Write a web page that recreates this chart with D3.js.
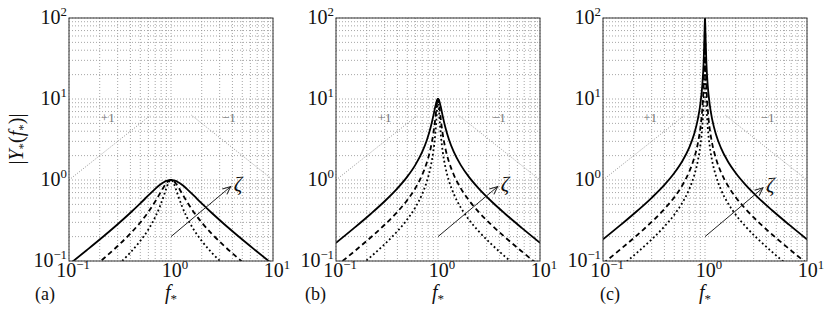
<!DOCTYPE html>
<html>
<head>
<meta charset="utf-8">
<script src="https://cdnjs.cloudflare.com/ajax/libs/d3/7.8.5/d3.min.js"></script>
<style>
  body { margin: 0; background: #fff; }
  text { font-family: "Liberation Serif", "DejaVu Serif", serif; fill: #111; }
</style>
</head>
<body>
<script>
// normalised frequency f* (shared by every curve)
var freq = [0.1, 0.15, 0.22, 0.3, 0.4, 0.5, 0.6, 0.7, 0.78, 0.85, 0.9, 0.94, 0.97, 0.985, 0.995, 0.998, 1,
  1.002, 1.005, 1.015, 1.031, 1.064, 1.111, 1.176, 1.282, 1.429, 1.667, 2, 2.5, 3.333, 4.545, 6.667, 10];

// panel (a) |Y*| values
var solidA = [0.0905, 0.1368, 0.2037, 0.2844, 0.3939, 0.5145, 0.6449, 0.7773, 0.8733, 0.9401, 0.9736, 0.9907, 0.9977, 0.9994, 1.0, 1.0, 1.0,
  1.0, 1.0, 0.9994, 0.9977, 0.9907, 0.9736, 0.9401, 0.8733, 0.7773, 0.6449, 0.5145, 0.3939, 0.2844, 0.2037, 0.1368, 0.0905];
var dashedA = [0.0474, 0.0719, 0.1080, 0.1531, 0.2184, 0.2990, 0.4032, 0.5421, 0.6834, 0.8213, 0.9122, 0.9670, 0.9917, 0.9979, 0.9998, 1.0, 1.0,
  1.0, 0.9998, 0.9979, 0.9917, 0.9670, 0.9122, 0.8213, 0.6834, 0.5421, 0.4032, 0.2990, 0.2184, 0.1531, 0.1080, 0.0719, 0.0474];
var dottedA = [0.0273, 0.0414, 0.0623, 0.0887, 0.1275, 0.1772, 0.2454, 0.3475, 0.4736, 0.6373, 0.7878, 0.9090, 0.9755, 0.9938, 0.9993, 0.9999, 1.0,
  0.9999, 0.9993, 0.9938, 0.9755, 0.9090, 0.7878, 0.6373, 0.4736, 0.3475, 0.2454, 0.1772, 0.1275, 0.0887, 0.0623, 0.0414, 0.0273];

// panel (b)
var solidB = [0.1676, 0.2547, 0.3835, 0.5464, 0.788, 1.100, 1.538, 2.222, 3.139, 4.532, 6.181, 8.015, 9.388, 9.838, 9.982, 9.997, 10,
  9.997, 9.982, 9.838, 9.388, 8.015, 6.181, 4.532, 3.139, 2.222, 1.538, 1.100, 0.788, 0.5464, 0.3835, 0.2547, 0.1676];
var dashedB = [0.0859, 0.1304, 0.1965, 0.2801, 0.4044, 0.5658, 0.7944, 1.159, 1.669, 2.520, 3.735, 5.659, 8.128, 9.422, 9.931, 9.989, 10,
  9.989, 9.931, 9.422, 8.128, 5.659, 3.735, 2.520, 1.669, 1.159, 0.7944, 0.5658, 0.4044, 0.2801, 0.1965, 0.1304, 0.0859];
var dottedB = [0.0495, 0.0752, 0.1133, 0.1615, 0.2333, 0.3265, 0.4589, 0.6711, 0.9714, 1.484, 2.261, 3.679, 6.267, 8.511, 9.797, 9.967, 10,
  9.967, 9.797, 8.511, 6.267, 3.679, 2.261, 1.484, 0.9714, 0.6711, 0.4589, 0.3265, 0.2333, 0.1615, 0.1133, 0.0752, 0.0495];

// panel (c)
var solidC = [0.1849, 0.2808, 0.4231, 0.6033, 0.8714, 1.220, 1.716, 2.511, 3.643, 5.597, 8.636, 14.62, 28.77, 51.79, 87.70, 97.69, 100,
  97.69, 87.70, 51.79, 28.77, 14.62, 8.636, 5.597, 3.643, 2.511, 1.716, 1.220, 0.8714, 0.6033, 0.4231, 0.2808, 0.1849];
var dashedC = [0.0929, 0.1412, 0.2127, 0.3033, 0.4381, 0.6133, 0.8625, 1.263, 1.832, 2.817, 4.354, 7.409, 14.93, 29.12, 67.61, 91.69, 100,
  91.69, 67.61, 29.12, 14.93, 7.409, 4.354, 2.817, 1.832, 1.263, 0.8625, 0.6133, 0.4381, 0.3033, 0.2127, 0.1412, 0.0929];
var dottedC = [0.0566, 0.0859, 0.1295, 0.1846, 0.2667, 0.3733, 0.5250, 0.7686, 1.115, 1.715, 2.652, 4.518, 9.153, 18.22, 48.77, 81.35, 100,
  81.35, 48.77, 18.22, 9.153, 4.518, 2.652, 1.715, 1.115, 0.7686, 0.5250, 0.3733, 0.2667, 0.1846, 0.1295, 0.0859, 0.0566];

// slope guide lines (+1 and -1)
var guidePlus = [[0.1, 1], [0.63, 6.3]];
var guideMinus = [[1.59, 6.3], [10, 1]];

// tick labels
var xTickVals = [0.1, 1, 10];
var xTickExp = ["\u22121", "0", "1"];
var yTickVals = [0.1, 1, 10, 100];
var yTickExp = ["\u22121", "0", "1", "2"];

var panelNames = ["(a)", "(b)", "(c)"];

// layout
var plotTop = 18, plotW = 204, plotH = 243;
var panels = [
  { left: 69,  curves: [solidA, dashedA, dottedA], plusF: 0.24, minusF: 3.7,  arrow: [[1, 0.2], [3.85, 0.83]], labelX: 35 },
  { left: 336, curves: [solidB, dashedB, dottedB], plusF: 0.30, minusF: 3.95, arrow: [[1, 0.2], [3.85, 0.83]], labelX: 305 },
  { left: 603, curves: [solidC, dashedC, dottedC], plusF: 0.29, minusF: 4.1,  arrow: [[1, 0.2], [3.7, 0.80]],  labelX: 600 }
];
var dashes = [null, "5,3.5", "1.8,2.6"];
var fs = 20; // tick label size

var svg = d3.select("body").append("svg")
  .attr("width", 830)
  .attr("height", 312);

var defs = svg.append("defs");
defs.append("marker")
  .attr("id", "head")
  .attr("viewBox", "-10 -6 12 12")
  .attr("markerWidth", 12).attr("markerHeight", 12)
  .attr("markerUnits", "userSpaceOnUse")
  .attr("orient", "auto")
  .append("path")
  .attr("d", "M-8,-3.5 L0,0 L-8,3.5")
  .attr("fill", "none")
  .attr("stroke", "#222")
  .attr("stroke-width", 1);

function supText(sel, base, exp, size) {
  sel.append("tspan").text(base);
  sel.append("tspan").attr("dy", -8).attr("font-size", size * 0.64).text(exp);
}

panels.forEach(function(p, pi) {
  var x = d3.scaleLog().domain([0.1, 10]).range([0, plotW]);
  var y = d3.scaleLog().domain([0.1, 100]).range([plotH, 0]);

  var g = svg.append("g").attr("transform", "translate(" + p.left + "," + plotTop + ")");

  defs.append("clipPath").attr("id", "clip" + pi)
    .append("rect").attr("width", plotW).attr("height", plotH);

  // grid (major + minor)
  g.selectAll(".gx").data(x.ticks()).enter().append("line")
    .attr("x1", function(d) { return x(d); }).attr("x2", function(d) { return x(d); })
    .attr("y1", 0).attr("y2", plotH)
    .attr("stroke", "#8f8f8f").attr("stroke-width", 0.8).attr("stroke-dasharray", "1,2");
  g.selectAll(".gy").data(y.ticks()).enter().append("line")
    .attr("y1", function(d) { return y(d); }).attr("y2", function(d) { return y(d); })
    .attr("x1", 0).attr("x2", plotW)
    .attr("stroke", "#8f8f8f").attr("stroke-width", 0.8).attr("stroke-dasharray", "1,2");

  var plot = g.append("g").attr("clip-path", "url(#clip" + pi + ")");

  // slope guides
  var guide = d3.line().x(function(d) { return x(d[0]); }).y(function(d) { return y(d[1]); });
  [guidePlus, guideMinus].forEach(function(gd) {
    plot.append("path").attr("d", guide(gd))
      .attr("fill", "none").attr("stroke", "#777").attr("stroke-width", 0.8)
      .attr("stroke-dasharray", "1,1.6");
  });
  g.append("text").attr("x", x(p.plusF)).attr("y", y(6)).attr("dy", "0.35em")
    .attr("text-anchor", "middle").attr("font-size", 13).style("fill", "#777").text("+1");
  g.append("text").attr("x", x(p.minusF)).attr("y", y(6)).attr("dy", "0.35em")
    .attr("text-anchor", "middle").attr("font-size", 13).style("fill", "#777").text("\u22121");

  // response curves
  var line = d3.line()
    .x(function(d, i) { return x(freq[i]); })
    .y(function(d) { return y(d); })
    .curve(d3.curveMonotoneX);
  p.curves.forEach(function(vals, ci) {
    plot.append("path").datum(vals)
      .attr("d", line)
      .attr("fill", "none")
      .attr("stroke", "#000")
      .attr("stroke-width", 1.8)
      .attr("stroke-dasharray", dashes[ci]);
  });

  // zeta arrow
  g.append("line")
    .attr("x1", x(p.arrow[0][0])).attr("y1", y(p.arrow[0][1]))
    .attr("x2", x(p.arrow[1][0])).attr("y2", y(p.arrow[1][1]))
    .attr("stroke", "#222").attr("stroke-width", 1)
    .attr("marker-end", "url(#head)");
  g.append("text")
    .attr("x", x(p.arrow[1][0]) + 3).attr("y", y(p.arrow[1][1]) + 4)
    .attr("font-size", 21).attr("font-style", "italic").text("\u03b6");

  // frame
  g.append("rect").attr("width", plotW).attr("height", plotH)
    .attr("fill", "none").attr("stroke", "#333").attr("stroke-width", 1);

  // y tick labels
  yTickVals.forEach(function(v, i) {
    var t = g.append("text").attr("x", -2).attr("y", y(v) + 6)
      .attr("text-anchor", "end").attr("font-size", fs);
    supText(t, "10", yTickExp[i], fs);
  });
  // x tick labels
  xTickVals.forEach(function(v, i) {
    var t = g.append("text").attr("x", x(v) + 4).attr("y", plotH + 16)
      .attr("text-anchor", "middle").attr("font-size", fs);
    supText(t, "10", xTickExp[i], fs);
  });

  // x label f*
  var xl = g.append("text").attr("x", plotW / 2).attr("y", plotH + 38)
    .attr("text-anchor", "middle").attr("font-size", 20);
  xl.append("tspan").attr("font-style", "italic").text("f");
  xl.append("tspan").attr("dy", 4).attr("font-size", 13).text("*");

  // panel name
  svg.append("text").attr("x", p.labelX).attr("y", plotTop + plotH + 39)
    .attr("font-size", 18).text(panelNames[pi]);
});

// y axis label |Y*(f*)|
var yl = svg.append("text")
  .attr("transform", "translate(23,139) rotate(-90)")
  .attr("text-anchor", "middle").attr("font-size", 20);
yl.append("tspan").text("|");
yl.append("tspan").attr("font-style", "italic").text("Y");
yl.append("tspan").attr("dy", 4).attr("font-size", 13).text("*");
yl.append("tspan").attr("dy", -4).text("(");
yl.append("tspan").attr("font-style", "italic").text("f");
yl.append("tspan").attr("dy", 4).attr("font-size", 13).text("*");
yl.append("tspan").attr("dy", -4).text(")|");
</script>
</body>
</html>
